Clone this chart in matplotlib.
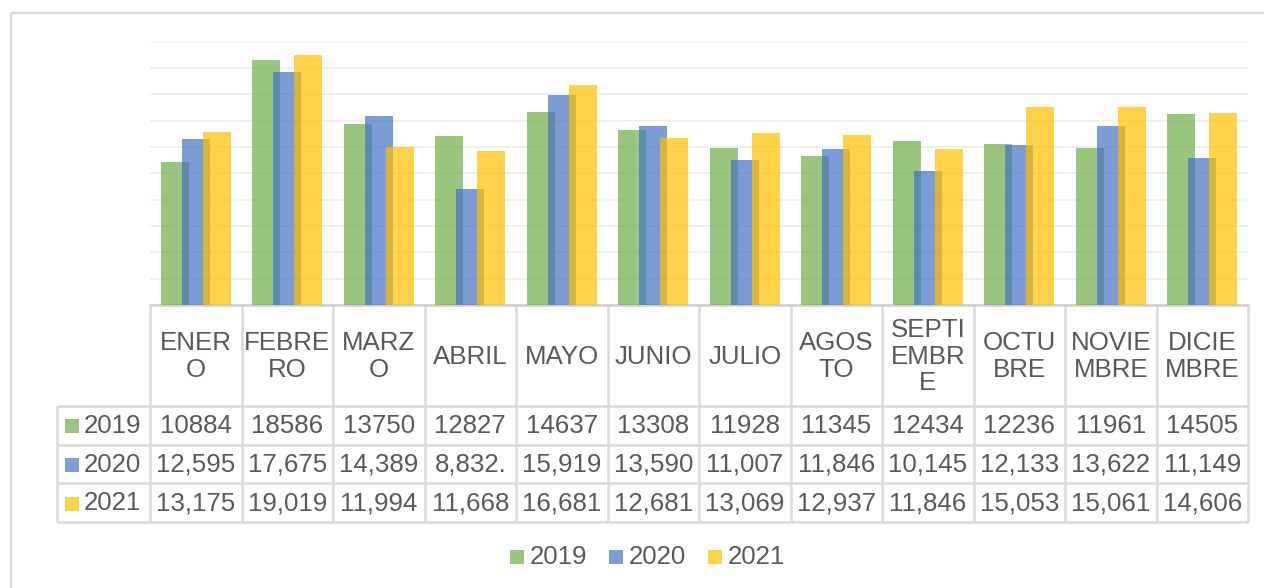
import matplotlib.pyplot as plt
from matplotlib.patches import Rectangle
import numpy as np

plt.rcParams["font.family"] = ["Liberation Sans", "DejaVu Sans"]

MONTHS = ["ENER\nO", "FEBRE\nRO", "MARZ\nO", "ABRIL", "MAYO", "JUNIO", "JULIO",
          "AGOS\nTO", "SEPTI\nEMBR\nE", "OCTU\nBRE", "NOVIE\nMBRE", "DICIE\nMBRE"]
YEARS = ["2019", "2020", "2021"]
V2019 = [10884, 18586, 13750, 12827, 14637, 13308, 11928, 11345, 12434, 12236, 11961, 14505]
V2020 = [12595, 17675, 14389, 8832, 15919, 13590, 11007, 11846, 10145, 12133, 13622, 11149]
V2021 = [13175, 19019, 11994, 11668, 16681, 12681, 13069, 12937, 11846, 15053, 15061, 14606]

COLORS = ["#70AD47", "#4472C4", "#FFC000"]
TXT = "#595959"
LINE = "#D9D9D9"
FS = 18.6

# text as shown in the table cells (2019 row without separators, one cell clipped)
rows_txt = [
    [str(v) for v in V2019],
    [f"{v:,}" for v in V2020],
    [f"{v:,}" for v in V2021],
]
rows_txt[1][3] = rows_txt[1][3] + "."

W, H = 1264, 588
fig = plt.figure(figsize=(W / 100, H / 100), dpi=100)

# overlay in pixel coordinates for frame, table and legend
ov = fig.add_axes([0, 0, 1, 1])
ov.set_xlim(0, W)
ov.set_ylim(H, 0)
ov.axis("off")
ov.add_patch(Rectangle((11, 13), W + 20, H + 20, fill=False, ec=LINE, lw=1.6))

x0, x1 = 150, 1248
y_top, y_axis = 41.7, 305
ax = fig.add_axes([x0 / W, (H - y_axis) / H, (x1 - x0) / W, (y_axis - y_top) / H])
n = len(MONTHS)
x = np.arange(n)
width = 0.305
step = 0.229
for i, vals in enumerate([V2019, V2020, V2021]):
    ax.bar(x + (i - 1) * step, vals, width=width, color=COLORS[i], alpha=0.7,
           zorder=3, linewidth=0)
ax.set_xlim(-0.5, n - 0.5)
ax.set_ylim(0, 20000)
ax.set_yticks(np.arange(0, 20001, 2000))
ax.grid(axis="y", color="#EFEFEF", lw=1.3, zorder=0)
ax.tick_params(left=False, bottom=False, labelleft=False, labelbottom=False)
for s in ["top", "right", "left"]:
    ax.spines[s].set_visible(False)
ax.spines["bottom"].set_color("#D0D0D0")
ax.spines["bottom"].set_linewidth(1.8)

# data table
col_w = (x1 - x0) / n
row_y = [305, 406, 444.5, 483, 522]
hdr_left = 57
lkw = dict(color=LINE, lw=1.8, solid_capstyle="butt")
for yy in row_y[1:]:
    ov.plot([hdr_left, x1], [yy, yy], **lkw)
ov.plot([hdr_left, hdr_left], [row_y[1], row_y[-1]], **lkw)
for j in range(n + 1):
    xx = x0 + j * col_w
    ov.plot([xx, xx], [row_y[0], row_y[-1]], **lkw)

for j, m in enumerate(MONTHS):
    ov.text(x0 + (j + 0.5) * col_w, (row_y[0] + row_y[1]) / 2 + 1, m,
            ha="center", va="center", fontsize=FS, color=TXT, linespacing=1.15)

for r in range(3):
    yc = (row_y[r + 1] + row_y[r + 2]) / 2 + 1
    ov.add_patch(Rectangle((65, yc - 7), 14, 14, color=COLORS[r], alpha=0.7, lw=0))
    ov.text(84, yc, YEARS[r], ha="left", va="center", fontsize=FS, color=TXT)
    for j in range(n):
        ov.text(x0 + (j + 0.5) * col_w, yc, rows_txt[r][j],
                ha="center", va="center", fontsize=FS, color=TXT)

# legend
for i, lx in enumerate([510, 609, 708]):
    ov.add_patch(Rectangle((lx, 550), 14, 14, color=COLORS[i], alpha=0.7, lw=0))
    ov.text(lx + 20, 557.5, YEARS[i], ha="left", va="center", fontsize=FS, color=TXT)

fig.savefig("out.png", dpi=100)
